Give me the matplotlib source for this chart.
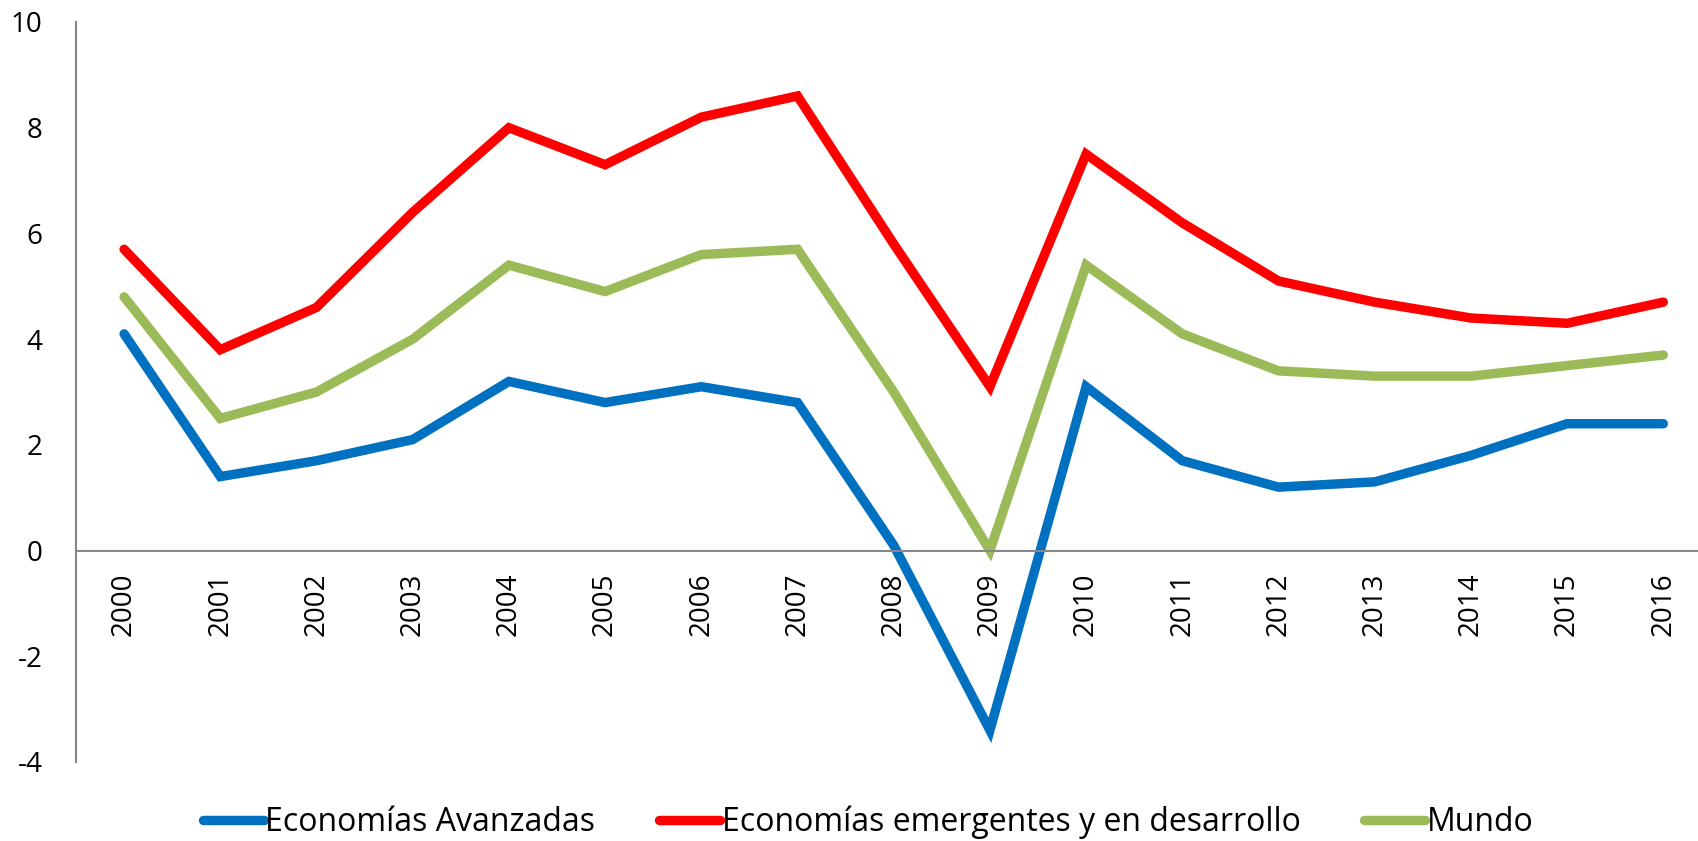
import matplotlib
matplotlib.use("Agg")
import matplotlib.pyplot as plt
from matplotlib import font_manager

years = [str(y) for y in range(2000, 2017)]
avanzadas = [4.1, 1.4, 1.7, 2.1, 3.2, 2.8, 3.1, 2.8, 0.1, -3.4, 3.1, 1.7, 1.2, 1.3, 1.8, 2.4, 2.4]
emergentes = [5.7, 3.8, 4.6, 6.4, 8.0, 7.3, 8.2, 8.6, 5.8, 3.1, 7.5, 6.2, 5.1, 4.7, 4.4, 4.3, 4.7]
mundo = [4.8, 2.5, 3.0, 4.0, 5.4, 4.9, 5.6, 5.7, 3.0, 0.0, 5.4, 4.1, 3.4, 3.3, 3.3, 3.5, 3.7]
labels = ["Economías Avanzadas", "Economías emergentes y en desarrollo", "Mundo"]
colors = ["#0070C0", "#FF0000", "#9BBB59"]
yticks = [-4, -2, 0, 2, 4, 6, 8, 10]

names = {f.name for f in font_manager.fontManager.ttflist}
fam = "Liberation Sans Narrow" if "Liberation Sans Narrow" in names else "Open Sans"
plt.rcParams['font.family'] = [fam, 'DejaVu Sans']

fig = plt.figure(figsize=(16.99, 8.41), dpi=100)
ax = fig.add_axes([76/1699, 79/841, 17*96.2/1699, 740/841])
ax.spines['bottom'].set_position(('data', 0))
for s in ['top', 'right']:
    ax.spines[s].set_visible(False)
for s in ['left', 'bottom']:
    ax.spines[s].set_color('#868686')
    ax.spines[s].set_linewidth(1.5)

x = list(range(len(years)))
for vals, lab, c in zip([avanzadas, emergentes, mundo], labels, colors):
    ax.plot(x, vals, color=c, lw=6.8, label=lab, solid_capstyle='round', solid_joinstyle='miter')

ax.set_xlim(-0.5, len(years) - 0.5)
ax.set_ylim(-4, 10)
ax.set_yticks(yticks)
ax.set_yticklabels([str(v) for v in yticks], fontsize=20)
ax.set_xticks(x)
ax.set_xticklabels(years, rotation=90, fontsize=20, va='top')
ax.tick_params(axis='both', length=0)
ax.tick_params(axis='y', pad=24)
ax.tick_params(axis='x', pad=16)

handles, labs = ax.get_legend_handles_labels()
fig.legend(handles, labs, loc='center', bbox_to_anchor=(0.511, 0.022), ncol=3,
           frameon=False, fontsize=23, handlelength=1.9, handletextpad=0.05,
           columnspacing=2.0)

fig.savefig("out.png", dpi=100)
